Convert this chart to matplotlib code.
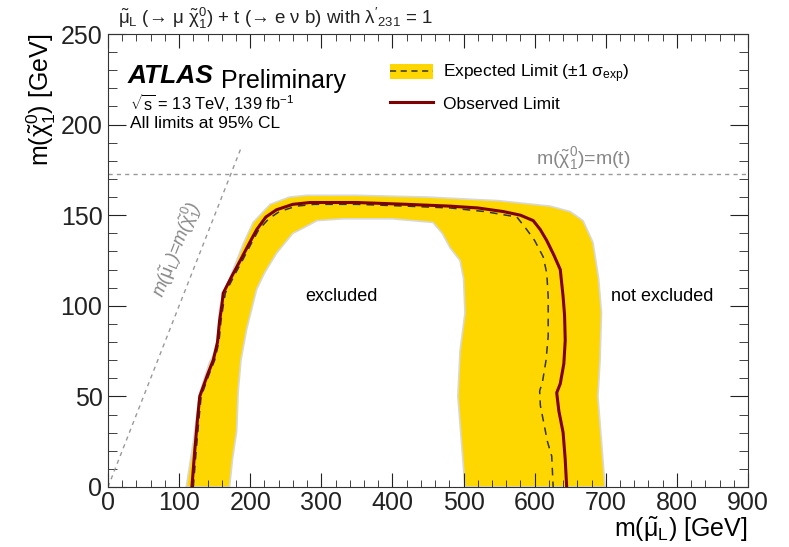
import matplotlib
matplotlib.use('Agg')
import matplotlib.pyplot as plt
from matplotlib.patches import Patch
from matplotlib.lines import Line2D
from matplotlib.ticker import MultipleLocator

plt.rcParams['font.family'] = ['Liberation Sans', 'DejaVu Sans']
plt.rcParams['mathtext.fontset'] = 'custom'
plt.rcParams['mathtext.rm'] = 'Liberation Sans'
plt.rcParams['mathtext.it'] = 'Liberation Sans:italic'
plt.rcParams['mathtext.bf'] = 'Liberation Sans:bold'

# +-1 sigma expected band: outer edge (left, top, right) then inner edge back
band_outer_x = [110, 120, 129, 142, 153, 157, 166, 176, 190, 204, 228, 255, 280, 350, 450,
                550, 622, 650, 668, 682, 690, 694, 692, 689, 694, 699]
band_outer_y = [0, 25, 52, 68, 77, 99, 110, 120, 134, 146, 156, 160, 161, 161, 160,
                158, 155, 152, 147, 135, 115, 96, 70, 50, 25, 0]
band_inner_x = [502, 497, 492, 495, 502, 500, 495, 481, 470, 457, 400, 330, 294, 275, 260,
                237, 220, 209, 195, 187, 183, 181, 175, 171]
band_inner_y = [0, 25, 50, 75, 96, 115, 125, 132, 140, 146, 148, 148, 147, 143, 140,
                129, 118, 109, 87, 70, 52, 31, 15, 0]

obs_x = [118, 122, 126, 129, 140, 148, 154, 157, 160, 162, 175, 186, 198, 209, 222, 237, 260,
         284, 350, 420, 481, 520, 556, 580, 598, 608, 617, 627, 636, 640, 642, 643, 641, 636,
         631, 634, 640, 643, 645]
obs_y = [0, 20, 38, 50, 62, 70, 80, 92, 100, 107, 117, 125, 134, 142, 149, 153, 156,
         157, 157, 156, 155, 154, 152, 150, 147, 142, 136, 128, 120, 105, 95, 81, 68, 57,
         52, 42, 30, 15, 0]

exp_x = [120, 124, 128, 131, 142, 150, 156, 159, 162, 165, 178, 189, 201, 212, 226, 241, 265,
         290, 350, 420, 481, 530, 575, 589, 600, 612, 617, 619, 619, 616, 611, 607, 608, 612,
         618, 624, 626]
exp_y = [0, 20, 38, 50, 62, 70, 80, 92, 100, 107, 117, 125, 134, 142, 148, 152, 155,
         156, 156, 155, 154, 152, 149, 142, 136, 127, 118, 105, 83, 70, 58, 53, 45, 37,
         25, 17, 0]

m_top = 172.5
diag_end = 188

fig = plt.figure(figsize=(7.89, 5.47), dpi=100)
ax = fig.add_axes([108 / 789, 60 / 547, 640 / 789, 453 / 547])

band_x = band_outer_x + band_inner_x
band_y = band_outer_y + band_inner_y
ax.fill(band_x, band_y, facecolor='#ffd700', edgecolor='#d8d8d8', lw=1.2, zorder=1)
ax.plot(exp_x, exp_y, color='#333333', lw=1.1, ls=(0, (5, 4)), zorder=3)
ax.plot(obs_x, obs_y, color='#7f0000', lw=2.2, zorder=4)

ax.axhline(m_top, color='#999999', lw=1.0, ls=(0, (3, 3)), zorder=2)
ax.plot([0, diag_end], [0, diag_end], color='#999999', lw=1.0, ls=(0, (3, 3)), zorder=2)

ax.set_xlim(0, 900)
ax.set_ylim(0, 250)
ax.xaxis.set_major_locator(MultipleLocator(100))
ax.xaxis.set_minor_locator(MultipleLocator(20))
ax.yaxis.set_major_locator(MultipleLocator(50))
ax.yaxis.set_minor_locator(MultipleLocator(10))
ax.tick_params(which='both', direction='in', top=True, right=True, labelsize=18, colors='#222222')
ax.tick_params(axis='x', which='major', length=10, pad=3)
ax.tick_params(axis='x', which='minor', length=5)
ax.tick_params(axis='y', which='major', length=13, pad=4)
ax.tick_params(axis='y', which='minor', length=6.5)
for s in ax.spines.values():
    s.set_color('#333333')

ax.set_xlabel(r'm($\tilde{\mathrm{\mu}}_{\mathrm{L}}$) [GeV]', fontsize=18, loc='right', labelpad=0)
ax.set_ylabel(r'm($\tilde{\mathrm{\chi}}^{0}_{1}$) [GeV]', fontsize=18, loc='top', labelpad=2)

atlas = ax.text(0.031, 0.891, 'ATLAS', transform=ax.transAxes, fontsize=19, fontweight='bold',
                style='italic')
ax.annotate('Preliminary', xy=(1, 0), xycoords=atlas, xytext=(5, 0), textcoords='offset points',
            fontsize=18)
ax.text(0.034, 0.832, r'$\sqrt{\mathrm{s}}$ = 13 TeV, 139 fb$^{-1}$', transform=ax.transAxes,
        fontsize=11.8)
ax.text(0.034, 0.792, 'All limits at 95% CL', transform=ax.transAxes, fontsize=12.5)

ax.text(328, 105, 'excluded', fontsize=13, ha='center', va='center')
ax.text(779, 105, 'not excluded', fontsize=13, ha='center', va='center')
ax.text(669, 181, r'm($\tilde{\mathrm{\chi}}^{0}_{1}$)=m(t)', fontsize=14, color='#888888',
        ha='center', va='center')
ax.text(96, 131, r'm($\tilde{\mathrm{\mu}}_{\mathrm{L}}$)=m($\tilde{\mathrm{\chi}}^{0}_{1}$)',
        fontsize=13, color='#888888', ha='center', va='center', rotation=68.5, style='italic')

title = (r'$\tilde{\mathrm{\mu}}_{\mathrm{L}}$ (→ $\mathrm{\mu}$ $\tilde{\mathrm{\chi}}^{0}_{1}$) + t '
         r"(→ e $\mathrm{\nu}$ b) with $\mathrm{\lambda}'_{231}$ = 1")
fig.text(118 / 789, 1 - 24 / 547, title, fontsize=13.5, color='#222222')

h_exp = (Patch(facecolor='#ffd700', edgecolor='none'),
         Line2D([], [], color='#333333', lw=1.1, ls=(0, (4, 3))))
h_obs = Line2D([], [], color='#7f0000', lw=2.2)
ax.legend([h_exp, h_obs], [r'Expected Limit ($\pm$1 $\mathrm{\sigma}_{\mathrm{exp}}$)', 'Observed Limit'],
          loc='upper left', bbox_to_anchor=(0.44, 0.937), frameon=False, fontsize=12.5,
          handlelength=2.5, handleheight=0.95, labelspacing=0.6, borderpad=0, borderaxespad=0,
          handletextpad=0.6)

fig.savefig('out.png', dpi=100)
